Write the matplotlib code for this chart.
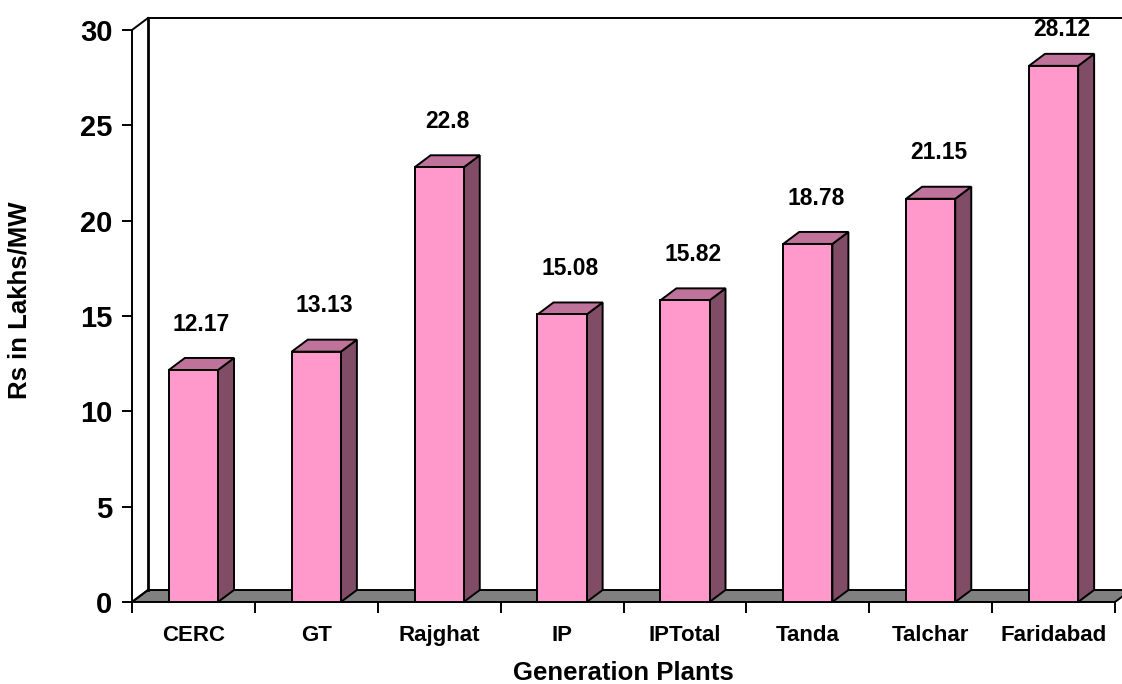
import matplotlib
matplotlib.use("Agg")
import matplotlib.pyplot as plt
from matplotlib.patches import Polygon, Rectangle

plants = ["CERC", "GT", "Rajghat", "IP", "IPTotal", "Tanda", "Talchar", "Faridabad"]
values = [12.17, 13.13, 22.8, 15.08, 15.82, 18.78, 21.15, 28.12]
value_labels = ["12.17", "13.13", "22.8", "15.08", "15.82", "18.78", "21.15", "28.12"]
y_ticks = [0, 5, 10, 15, 20, 25, 30]

plt.rcParams['font.family'] = ['Liberation Sans', 'DejaVu Sans']
plt.rcParams['font.weight'] = 'bold'

W, H = 1122, 684
fig = plt.figure(figsize=(W / 100, H / 100), dpi=100)
fig.patch.set_facecolor("white")

x0, x1, yb, yt = 132, 1115, 602, 30
ax = fig.add_axes([x0 / W, 1 - yb / H, (x1 - x0) / W, (yb - yt) / H])
n = len(plants)
ymax = 30
ax.set_xlim(0, n)
ax.set_ylim(0, ymax)
ax.set_facecolor("none")

# 3-D depth offset in data units
px_per_cat = (x1 - x0) / n
px_per_val = (yb - yt) / ymax
dx = 16 / px_per_cat
dy = 12 / px_per_val

lw = 1.4
front_col = "#FF99CC"
side_col = "#804C66"
top_col = "#C0739A"
floor_col = "#808080"

# floor
ax.add_patch(Polygon([(0, 0), (n, 0), (n + dx, dy), (dx, dy)], closed=True,
                     facecolor=floor_col, edgecolor="black", lw=lw, clip_on=False, zorder=1))
# back wall lines
ax.plot([dx, dx], [dy, ymax + dy], color="black", lw=2.0, clip_on=False, zorder=1)
ax.plot([dx, n + dx], [ymax + dy, ymax + dy], color="black", lw=lw, clip_on=False, zorder=1)
ax.plot([0, dx], [ymax, ymax + dy], color="black", lw=lw, clip_on=False, zorder=1)
ax.plot([0, 0], [0, ymax], color="black", lw=lw, clip_on=False, zorder=1)
ax.plot([0, dx], [0, dy], color="black", lw=lw, clip_on=False, zorder=1)

bw = 0.4
for i, v in enumerate(values):
    l = i + 0.5 - bw / 2
    r = i + 0.5 + bw / 2
    ax.add_patch(Polygon([(r, 0), (r + dx, dy), (r + dx, v + dy), (r, v)], closed=True,
                         facecolor=side_col, edgecolor="black", lw=lw, clip_on=False, zorder=3))
    ax.add_patch(Polygon([(l, v), (r, v), (r + dx, v + dy), (l + dx, v + dy)], closed=True,
                         facecolor=top_col, edgecolor="black", lw=lw, clip_on=False, zorder=3))
    ax.add_patch(Rectangle((l, 0), bw, v, facecolor=front_col, edgecolor="black",
                           lw=lw, clip_on=False, zorder=4))
    ly = min(v + 2.4, ymax + 0.05)
    ax.text(i + 0.5 + dx / 2, ly, value_labels[i], ha="center", va="center",
            fontsize=16.5, fontweight="bold", zorder=5)

for s in ax.spines.values():
    s.set_visible(False)

ax.set_yticks(y_ticks)
ax.set_yticklabels([str(t) for t in y_ticks], fontsize=21, fontweight="bold")
ax.tick_params(axis="y", direction="out", length=7.5, width=lw, pad=6.5)

ax.set_xticks(range(n + 1))
ax.set_xticklabels([])
ax.set_xticks([i + 0.5 for i in range(n)], minor=True)
ax.set_xticklabels(plants, minor=True, fontsize=16, fontweight="bold")
ax.tick_params(axis="x", which="major", direction="out", length=8, width=lw)
ax.tick_params(axis="x", which="minor", length=0, pad=16.5)

fig.text((x0 + x1) / 2 / W, 1 - 673 / H, "Generation Plants", ha="center", va="center",
         fontsize=18.5, fontweight="bold")
fig.text(20 / W, 1 - 300 / H, "Rs in Lakhs/MW", ha="center", va="center",
         rotation=90, fontsize=18.5, fontweight="bold")

fig.savefig("out.png", dpi=100, facecolor="white")
